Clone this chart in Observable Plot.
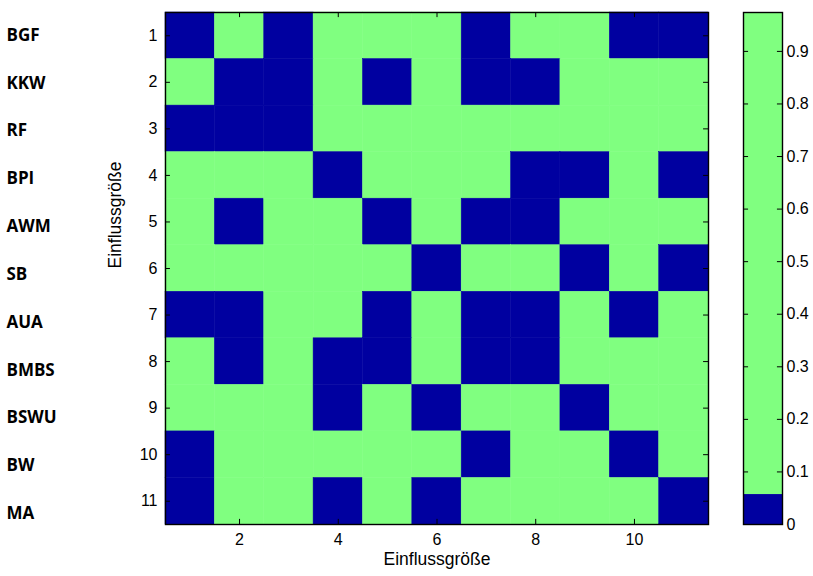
<!DOCTYPE html>
<html>
<head>
<meta charset="utf-8">
<script src="https://cdn.jsdelivr.net/npm/d3@7"></script>
<script src="https://cdn.jsdelivr.net/npm/@observablehq/plot@0.6"></script>
<style>
  html, body { margin: 0; padding: 0; background: white; }
  #wrap { position: relative; width: 813px; height: 576px; overflow: hidden; }
  #wrap > svg { position: absolute; top: 0; }
</style>
</head>
<body>
<div id="wrap"></div>
<script>
// ---- data ----
const rowNames = ["BGF", "KKW", "RF", "BPI", "AWM", "SB", "AUA", "BMBS", "BSWU", "BW", "MA"];
const rowIndex = [1, 2, 3, 4, 5, 6, 7, 8, 9, 10, 11];
const colIndex = [1, 2, 3, 4, 5, 6, 7, 8, 9, 10, 11];
const row1  = [0, 1, 0, 1, 1, 1, 0, 1, 1, 0, 0];
const row2  = [1, 0, 0, 1, 0, 1, 0, 0, 1, 1, 1];
const row3  = [0, 0, 0, 1, 1, 1, 1, 1, 1, 1, 1];
const row4  = [1, 1, 1, 0, 1, 1, 1, 0, 0, 1, 0];
const row5  = [1, 0, 1, 1, 0, 1, 0, 0, 1, 1, 1];
const row6  = [1, 1, 1, 1, 1, 0, 1, 1, 0, 1, 0];
const row7  = [0, 0, 1, 1, 0, 1, 0, 0, 1, 0, 1];
const row8  = [1, 0, 1, 0, 0, 1, 0, 0, 1, 1, 1];
const row9  = [1, 1, 1, 0, 1, 0, 1, 1, 0, 1, 1];
const row10 = [0, 1, 1, 1, 1, 1, 0, 1, 1, 0, 1];
const row11 = [0, 1, 1, 0, 1, 0, 1, 1, 1, 1, 0];
const xTicks = [2, 4, 6, 8, 10];
const yTicks = [1, 2, 3, 4, 5, 6, 7, 8, 9, 10, 11];
const axisLabel = "Einflussgröße";
// colorbar
const cbMax = 0.974;
const cbBandLo = [0, 0.057];
const cbBandHi = [0.057, 0.974];
const cbBandVal = [0, 1];
const cbTicks = [0, 0.1, 0.2, 0.3, 0.4, 0.5, 0.6, 0.7, 0.8, 0.9];

const BLUE = "#0000a0";
const GREEN = "#80ff80";
const FONT = "Liberation Sans, Arial, Helvetica, sans-serif";
const STYLE = `font-family: ${FONT}; font-size: 16px; color: black; background: transparent;`;

const grid = [row1, row2, row3, row4, row5, row6, row7, row8, row9, row10, row11];
const cells = [];
grid.forEach((r, i) => r.forEach((v, j) => cells.push({row: rowIndex[i], col: colIndex[j], v})));
const fillOf = v => v ? GREEN : BLUE;

const wrap = document.getElementById("wrap");

// ---- main heatmap ----
const main = Plot.plot({
  width: 813, height: 576,
  marginLeft: 165, marginRight: 105, marginTop: 12, marginBottom: 52,
  style: STYLE,
  x: {domain: [0.5, 11.5]},
  y: {domain: [0.5, 11.5], reverse: true},
  marks: [
    Plot.rect(cells, {
      x1: d => d.col - 0.5, x2: d => d.col + 0.5,
      y1: d => d.row - 0.5, y2: d => d.row + 0.5,
      fill: d => fillOf(d.v), stroke: d => fillOf(d.v), strokeWidth: 0.5
    }),
    Plot.ruleX(xTicks, {x: d => d, y1: 11.5, y2: 11.39, stroke: "black", strokeWidth: 1}),
    Plot.ruleX(xTicks, {x: d => d, y1: 0.5, y2: 0.61, stroke: "black", strokeWidth: 1}),
    Plot.ruleY(yTicks, {y: d => d, x1: 0.5, x2: 0.6, stroke: "black", strokeWidth: 1}),
    Plot.ruleY(yTicks, {y: d => d, x1: 11.5, x2: 11.4, stroke: "black", strokeWidth: 1}),
    Plot.frame({stroke: "black", strokeWidth: 1.4}),
    Plot.axisX({ticks: xTicks, tickSize: 0, tickPadding: 9, label: null, fontSize: 16, fontFamily: FONT}),
    Plot.axisY({ticks: yTicks, tickSize: 0, tickPadding: 8, label: null, fontSize: 16, fontFamily: FONT}),
    Plot.text([axisLabel], {frameAnchor: "bottom", dy: 40, fontSize: 17.5, fontFamily: FONT, fill: "black"}),
    Plot.text([axisLabel], {frameAnchor: "left", dx: -50, rotate: -90, fontSize: 17.5, fontFamily: FONT, fill: "black"})
  ]
});
main.style.left = "0px";
wrap.appendChild(main);

// ---- colorbar ----
const bands = cbBandLo.map((lo, i) => ({lo, hi: cbBandHi[i], v: cbBandVal[i]}));
const cb = Plot.plot({
  width: 80, height: 576,
  marginLeft: 10, marginRight: 31, marginTop: 12, marginBottom: 52,
  style: STYLE,
  x: {domain: [0, 1], axis: null},
  y: {domain: [0, cbMax]},
  marks: [
    Plot.rect(bands, {x1: 0, x2: 1, y1: "lo", y2: "hi", fill: d => fillOf(d.v)}),
    Plot.ruleY(cbTicks, {y: d => d, x1: 0, x2: 0.13, stroke: "black", strokeWidth: 1}),
    Plot.ruleY(cbTicks, {y: d => d, x1: 0.87, x2: 1, stroke: "black", strokeWidth: 1}),
    Plot.frame({stroke: "black", strokeWidth: 1.4}),
    Plot.axisY({anchor: "right", ticks: cbTicks, tickSize: 0, tickPadding: 4, label: null, fontSize: 16, fontFamily: FONT, tickFormat: d => String(d)})
  ]
});
cb.style.left = "733px";
wrap.appendChild(cb);

// ---- row name labels ----
const labelRows = rowNames.map((name, i) => ({name, row: rowIndex[i]}));
const lab = Plot.plot({
  width: 813, height: 576,
  marginLeft: 0, marginRight: 0, marginTop: 11, marginBottom: 39,
  style: "font-family: 'Open Sans', sans-serif; background: transparent; pointer-events: none;",
  x: {domain: [0, 813], axis: null},
  y: {domain: [0.5, 11.5], reverse: true, axis: null},
  marks: [
    Plot.text(labelRows, {x: 6, y: "row", text: "name", textAnchor: "start", fontWeight: "bold", fontSize: 17, fontFamily: "Open Sans", fill: "black"})
  ]
});
lab.style.left = "0px";
wrap.appendChild(lab);
</script>
</body>
</html>
